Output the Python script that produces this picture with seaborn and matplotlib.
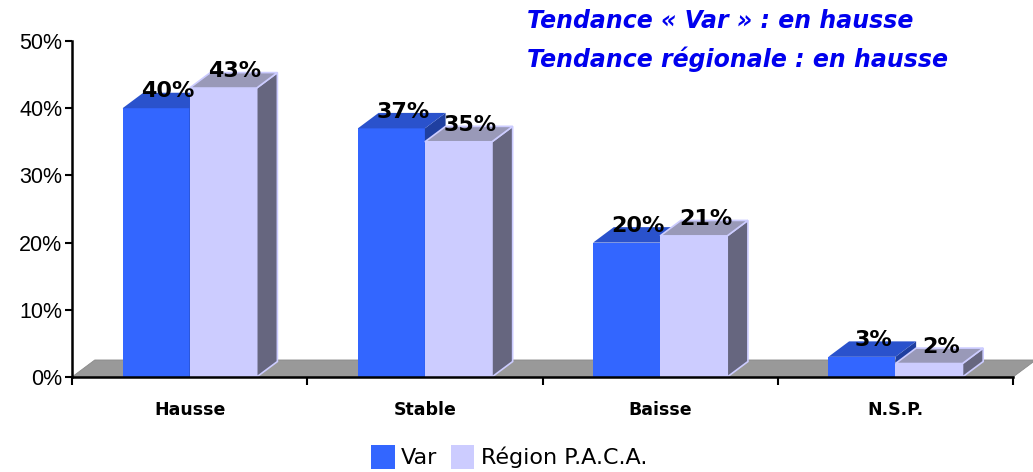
'''Var vs region PACA - tendance, fake 3D bars'''
import matplotlib
matplotlib.use('Agg')
import matplotlib.pyplot as plt
import matplotlib.ticker as ticker
from matplotlib.patches import Polygon, Patch
import pandas
import seaborn as sns

#region data
categories = ['Hausse', 'Stable', 'Baisse', 'N.S.P.']
series = ['Var', 'Région P.A.C.A.']
var_values = [40, 37, 20, 3]
paca_values = [43, 35, 21, 2]
y_ticks = [0, 10, 20, 30, 40, 50]
title_lines = ['Tendance « Var » : en hausse', 'Tendance régionale : en hausse']
#endregion

#region styles
FRONT = {'Var': '#3366FF', 'Région P.A.C.A.': '#CCCCFF'}
TOP = {'Var': '#2A52CC', 'Région P.A.C.A.': '#9999B8'}
SIDE = {'Var': '#1F3FA0', 'Région P.A.C.A.': '#66667F'}
DX = 0.088   # depth offset in category units
DY = 2.3     # depth offset in %
#endregion

df = pandas.DataFrame({
    'cat': categories * 2,
    'serie': [series[0]] * 4 + [series[1]] * 4,
    'val': var_values + paca_values,
})

sns.set_style('white')
plt.rcParams['text.color'] = 'black'
plt.rcParams['xtick.color'] = 'black'
plt.rcParams['ytick.color'] = 'black'
plt.rcParams['axes.edgecolor'] = 'black'

fig = plt.figure(figsize=(10.33, 4.72), dpi=100)
ax = fig.add_axes([0.0697, 0.2013, 0.911, 0.7118])

sns.barplot(data=df, x='cat', y='val', hue='serie', order=categories, hue_order=series,
            palette=[FRONT[s] for s in series], width=0.57, gap=0, linewidth=0,
            saturation=1, legend=False, ax=ax, errorbar=None)

ax.set_xlim(-0.5, 3.5)
ax.set_ylim(0, 50)

# floor
floor = Polygon([(-0.5, 0), (3.5, 0), (3.5 + DX * 1.1, DY * 1.1), (-0.5 + DX * 1.1, DY * 1.1)],
                closed=True, facecolor='#999999', edgecolor='#8A8A8A', linewidth=0.6,
                zorder=1, clip_on=False)
ax.add_patch(floor)

# 3d faces from the seaborn bars
bars = list(ax.patches[:len(df)])
for i, bar in enumerate(bars):
    s = df['serie'].iloc[i]
    z = 2 if s == 'Var' else 4
    x0 = bar.get_x()
    w = bar.get_width()
    h = bar.get_height()
    bar.set_zorder(z)
    ec = '#CCCCFF' if s != 'Var' else 'none'
    side = Polygon([(x0 + w, 0), (x0 + w + DX, DY), (x0 + w + DX, h + DY), (x0 + w, h)],
                   closed=True, facecolor=SIDE[s], edgecolor=ec, linewidth=1.2, zorder=z)
    top = Polygon([(x0, h), (x0 + w, h), (x0 + w + DX, h + DY), (x0 + DX, h + DY)],
                  closed=True, facecolor=TOP[s], edgecolor=ec, linewidth=1.2, zorder=z + 0.5)
    ax.add_patch(side)
    ax.add_patch(top)
    ax.text(x0 + w / 2 + 0.05, h + 2.5, '%d%%' % h, ha='center', va='center',
            fontsize=16, fontweight='bold', color='black', zorder=6)

#region axis
ax.set_xlabel('')
ax.set_ylabel('')
ax.set_yticks(y_ticks)
ax.yaxis.set_major_formatter(ticker.FuncFormatter(lambda v, p: '%d%%' % v))
ax.tick_params(axis='y', which='major', direction='out', length=5, width=1.5, labelsize=15.5,
               left=True, pad=2)
ax.set_xticks(range(len(categories)))
ax.set_xticklabels(categories, fontsize=12.5, fontweight='bold')
ax.tick_params(axis='x', which='major', length=0, pad=17)
ax.set_xticks([-0.5, 0.5, 1.5, 2.5, 3.5], minor=True)
ax.tick_params(axis='x', which='minor', direction='out', length=6, width=1.5, bottom=True)
for lab in ax.get_yticklabels():
    lab.set_fontfamily('Liberation Sans')
sns.despine(ax=ax, top=True, right=True)
ax.spines['left'].set_linewidth(1.8)
ax.spines['bottom'].set_linewidth(1.8)
ax.spines['left'].set_zorder(7)
ax.spines['bottom'].set_zorder(7)
#endregion

#region titles
fig.text(0.510, 0.955, title_lines[0], color='#0000EE', fontsize=17, fontweight='bold',
         fontstyle='italic', ha='left', va='center')
fig.text(0.510, 0.875, title_lines[1], color='#0000EE', fontsize=17, fontweight='bold',
         fontstyle='italic', ha='left', va='center')
#endregion

#region legend
handles = [Patch(facecolor=FRONT[s], edgecolor='none', label=s) for s in series]
fig.legend(handles=handles, loc='center', bbox_to_anchor=(0.493, 0.032), ncol=2,
           frameon=False, fontsize=16, handlelength=1.05, handleheight=1.3,
           handletextpad=0.3, columnspacing=0.6)
#endregion

fig.savefig('out.png', dpi=100)
